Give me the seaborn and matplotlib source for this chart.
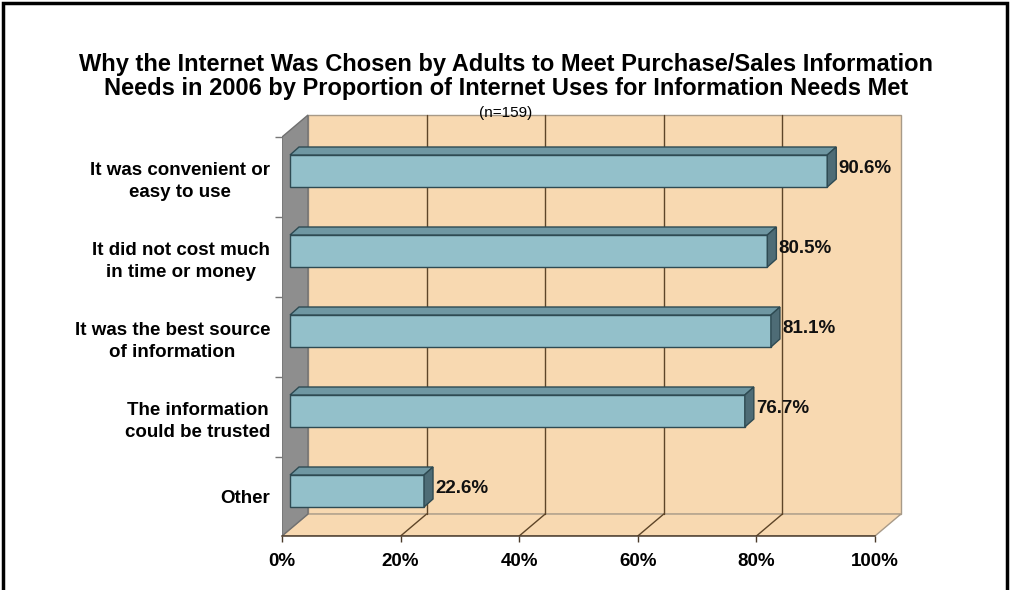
import numpy as np
import pandas as pd
import matplotlib
matplotlib.use("Agg")
import matplotlib.pyplot as plt
import seaborn as sns
from matplotlib.patches import Polygon, Rectangle

# chart data
reasons = [
    "It was convenient or\neasy to use",
    "It did not cost much\nin time or money",
    "It was the best source\nof information",
    "The information\ncould be trusted",
    "Other",
]
shares = [90.6, 80.5, 81.1, 76.7, 22.6]
x_ticks = [0, 20, 40, 60, 80, 100]
x_tick_labels = ["0%", "20%", "40%", "60%", "80%", "100%"]
title_lines = [
    "Why the Internet Was Chosen by Adults to Meet Purchase/Sales Information",
    "Needs in 2006 by Proportion of Internet Uses for Information Needs Met",
]
subtitle = "(n=159)"

df = pd.DataFrame({"reason": reasons, "share": shares})

sns.set_theme(style="white")
plt.rcParams["font.family"] = ["Liberation Sans", "DejaVu Sans"]
plt.rcParams["text.color"] = "black"
plt.rcParams["xtick.color"] = "black"
plt.rcParams["ytick.color"] = "black"

# colours
bar_front = "#93C0CA"
bar_top = "#6F97A2"
bar_side = "#4E6C76"
bar_edge = "#2E4A52"
wall = "#F8D9B1"
side_wall = "#8E8E8E"
grid_col = "#5E4528"
frame_col = "#A89A88"

fig = plt.figure(figsize=(10.12, 5.90), dpi=100)
# pixel layout: front 0% at x=282, baseline at y=536, 5.93 px per %, 80 px per category
px_per_x = 5.93
px_per_y = 80.0
ax = fig.add_axes([282 / 1012, 54 / 590, 628 / 1012, 426 / 590])

ox = 8 / px_per_x            # bars sit a little behind the front plane
dx = 26 / px_per_x           # depth of the box
dy = -22 / px_per_y
bdx = 9 / px_per_x           # depth of each bar
bdy = -8 / px_per_y

x_front0 = -ox
x_front1 = 100 - ox
y_base = 4.5625
y_top_back = -0.7
y_top_front = -0.425

sns.barplot(data=df, x="share", y="reason", orient="h", color=bar_front,
            saturation=1, width=0.4, edgecolor=bar_edge, linewidth=1.0, ax=ax, zorder=3)
bars = list(ax.patches)

ax.set_xlim(x_front0, x_front0 + 628 / px_per_x)
ax.set_ylim(y_base, y_base - 426 / px_per_y)

# back wall
ax.add_patch(Polygon([(x_front0 + dx, y_top_back), (x_front1 + dx, y_top_back),
                      (x_front1 + dx, y_base + dy), (x_front0 + dx, y_base + dy)],
                     closed=True, facecolor=wall, edgecolor=frame_col, lw=1, zorder=0))
# floor
ax.add_patch(Polygon([(x_front0, y_base), (x_front1, y_base),
                      (x_front1 + dx, y_base + dy), (x_front0 + dx, y_base + dy)],
                     closed=True, facecolor=wall, edgecolor=frame_col, lw=1, zorder=0.5))
# grid lines on wall and floor
for t in x_ticks[1:-1]:
    xf = t - ox
    ax.plot([xf + dx, xf + dx], [y_top_back, y_base + dy], color=grid_col, lw=1.0, zorder=0.6)
    ax.plot([xf + dx, xf], [y_base + dy, y_base], color=grid_col, lw=1.0, zorder=0.6)
# grey left wall
ax.add_patch(Polygon([(x_front0, y_top_front), (x_front0 + dx, y_top_back),
                      (x_front0 + dx, y_base + dy), (x_front0, y_base)],
                     closed=True, facecolor=side_wall, edgecolor="#707070", lw=1, zorder=0.7))

# 3D faces of the bars
for bar, val in zip(bars, shares):
    x0, y0 = bar.get_x(), bar.get_y()
    w, h = bar.get_width(), bar.get_height()
    ax.add_patch(Polygon([(x0, y0), (x0 + w, y0), (x0 + w + bdx, y0 + bdy), (x0 + bdx, y0 + bdy)],
                         closed=True, facecolor=bar_top, edgecolor=bar_edge, lw=1, zorder=3))
    ax.add_patch(Polygon([(x0 + w, y0), (x0 + w + bdx, y0 + bdy), (x0 + w + bdx, y0 + h + bdy),
                          (x0 + w, y0 + h)],
                         closed=True, facecolor=bar_side, edgecolor=bar_edge, lw=1, zorder=3))
    ax.text(x0 + w + bdx + 0.4, y0 + h / 2 - 0.03, f"{val:.1f}%", ha="left", va="center",
            fontsize=13.5, fontweight="bold", color="#111111", zorder=4)

# axes / ticks
for s in ["top", "right", "left"]:
    ax.spines[s].set_visible(False)
ax.spines["bottom"].set_bounds(x_front0, x_front1)
ax.spines["bottom"].set_color("#4A3A2A")
ax.spines["bottom"].set_linewidth(1.1)

ax.set_xticks(np.array(x_ticks) - ox, x_tick_labels)
ax.tick_params(axis="x", bottom=True, length=4, width=1, color="#4A3A2A", pad=8,
               labelsize=13.5)
for lab in ax.get_xticklabels():
    lab.set_fontweight("bold")

ax.set_yticks(np.arange(len(reasons)) + 0.07, reasons)
ax.tick_params(axis="y", which="major", left=False, length=0, pad=8.5, labelsize=13.5)
for lab in ax.get_yticklabels():
    lab.set_fontweight("bold")
    lab.set_linespacing(1.4)
    lab.set_ha("right")
    lab.set_multialignment("center")
ax.set_yticks(np.arange(len(reasons)) + y_top_front, minor=True)
ax.tick_params(axis="y", which="minor", left=True, length=5, width=1, color="#777777")
ax.set_xlabel("")
ax.set_ylabel("")

# titles
narrow = ["Liberation Sans Narrow", "Liberation Sans", "DejaVu Sans"]
fig.text(0.5, 1 - 64 / 590, title_lines[0], ha="center", va="center", fontsize=17,
         fontweight="bold", family=narrow)
fig.text(0.5, 1 - 89 / 590, title_lines[1], ha="center", va="center", fontsize=17,
         fontweight="bold", family=narrow)
fig.text(0.5, 1 - 113 / 590, subtitle, ha="center", va="center", fontsize=11,
         family=narrow)

# outer frame
fig.patches.append(Rectangle((3 / 1012, -0.02), 1004 / 1012, 1 - 3 / 590 + 0.02,
                             transform=fig.transFigure, fill=False, edgecolor="black",
                             lw=2.5, zorder=10))

fig.savefig("out.png", dpi=100)
